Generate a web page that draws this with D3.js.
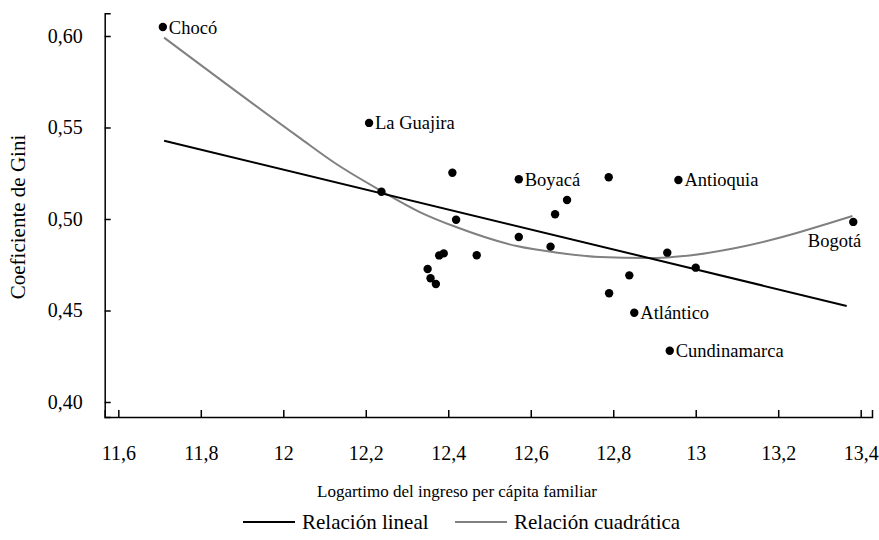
<!DOCTYPE html>
<html>
<head>
<meta charset="utf-8">
<script src="https://cdn.jsdelivr.net/npm/d3@7"></script>
<style>
  body { margin: 0; background: #fff; }
</style>
</head>
<body>
<svg width="879" height="540"></svg>
<script>
const svg = d3.select("svg");
const serif = "'Liberation Serif', 'Times New Roman', Times, serif";

// DATA
const regions = ["Chocó", "La Guajira", "", "", "", "Boyacá", "", "", "", "", "", "", "", "", "", "",
  "", "Antioquia", "Bogotá", "", "", "", "", "Atlántico", "Cundinamarca"];
const logIncome = [11.708, 12.208, 12.238, 12.410, 12.419, 12.571, 12.688, 12.659, 12.571, 12.648,
  12.469, 12.378, 12.389, 12.350, 12.357, 12.370, 12.789, 12.958, 13.382, 12.931, 13.000, 12.839,
  12.790, 12.851, 12.937];
const gini = [0.6049, 0.5525, 0.5149, 0.5253, 0.4996, 0.5217, 0.5104, 0.5026, 0.4902, 0.4849,
  0.4802, 0.4801, 0.4812, 0.4727, 0.4676, 0.4645, 0.5228, 0.5213, 0.4984, 0.4816, 0.4734, 0.4692,
  0.4594, 0.4488, 0.4280];

// fitted lines, points
const linearX = [11.711, 13.366];
const linearY = [0.5428, 0.4525];
const quadX = [11.711, 12.040, 12.125, 12.238, 12.331, 12.419, 12.566, 12.671, 12.768, 12.881, 12.985, 13.097, 13.380];
const quadY = [0.5991, 0.5443, 0.5306, 0.5153, 0.5038, 0.4956, 0.4852, 0.4814, 0.4792, 0.4787, 0.4801, 0.4842, 0.5016];

const xTicks = [11.6, 11.8, 12, 12.2, 12.4, 12.6, 12.8, 13, 13.2, 13.4];
const yTicks = [0.40, 0.45, 0.50, 0.55, 0.60];

const legendItems = [
  { name: "Relación lineal", color: "#000" },
  { name: "Relación cuadrática", color: "#808080" }
];

const points = logIncome.map((x, i) => ({ x: x, y: gini[i], name: regions[i] }));

// SCALES
const xScale = d3.scaleLinear().domain([11.567, 13.4274]).range([104.7, 872]);
const yScale = d3.scaleLinear().domain([0.3918, 0.6124]).range([417, 13.3]);

const loc = d3.formatLocale({ decimal: ",", thousands: ".", grouping: [3], currency: ["", ""] });
const fmtY = loc.format(".2f");
const fmtX = d => String(+d.toFixed(1)).replace(".", ",");

// AXES
const xAxis = d3.axisBottom(xScale)
  .tickValues(xTicks)
  .tickFormat(fmtX)
  .tickSizeInner(-7)
  .tickSizeOuter(-7)
  .tickPadding(29);

const yAxis = d3.axisLeft(yScale)
  .tickValues(yTicks)
  .tickFormat(fmtY)
  .tickSizeInner(-6)
  .tickSizeOuter(-6)
  .tickPadding(22);

const gx = svg.append("g").attr("transform", "translate(0,417)").call(xAxis);
const gy = svg.append("g").attr("transform", "translate(104.7,0)").call(yAxis);

[gx, gy].forEach(g => {
  g.attr("font-family", serif).attr("font-size", 20);
  g.selectAll("path, line").attr("stroke", "#000").attr("stroke-width", 1.5);
  g.selectAll("text").attr("font-family", serif).attr("font-size", 20).attr("fill", "#000");
});

// axis titles
svg.append("text")
  .attr("x", 457)
  .attr("y", 497)
  .attr("text-anchor", "middle")
  .attr("font-family", serif)
  .attr("font-size", 17)
  .text("Logartimo del ingreso per cápita familiar");

svg.append("text")
  .attr("transform", "translate(25,217) rotate(-90)")
  .attr("text-anchor", "middle")
  .attr("font-family", serif)
  .attr("font-size", 21)
  .text("Coeficiente de Gini");

// LINES
const line = d3.line().x(d => xScale(d[0])).y(d => yScale(d[1]));

svg.append("path")
  .datum(quadX.map((x, i) => [x, quadY[i]]))
  .attr("fill", "none")
  .attr("stroke", "#808080")
  .attr("stroke-width", 2)
  .attr("d", line.curve(d3.curveMonotoneX));

svg.append("path")
  .datum(linearX.map((x, i) => [x, linearY[i]]))
  .attr("fill", "none")
  .attr("stroke", "#000")
  .attr("stroke-width", 2)
  .attr("d", line.curve(d3.curveLinear));

// POINTS
svg.append("g")
  .selectAll("circle")
  .data(points)
  .join("circle")
  .attr("cx", d => xScale(d.x))
  .attr("cy", d => yScale(d.y))
  .attr("r", 4.2)
  .attr("fill", "#000");

// labels: right of the dot, Bogotá below-left
svg.append("g")
  .selectAll("text")
  .data(points.filter(d => d.name))
  .join("text")
  .attr("x", d => d.name === "Bogotá" ? xScale(d.x) + 8 : xScale(d.x) + 6)
  .attr("y", d => d.name === "Bogotá" ? yScale(d.y) + 19 : yScale(d.y))
  .attr("dy", "0.35em")
  .attr("text-anchor", d => d.name === "Bogotá" ? "end" : "start")
  .attr("font-family", serif)
  .attr("font-size", 18.5)
  .text(d => d.name);

// LEGEND
const lg = svg.append("g").attr("transform", "translate(243,522)");
const legendX = [0, 212];
const items = lg.selectAll("g").data(legendItems).join("g")
  .attr("transform", (d, i) => `translate(${legendX[i]},0)`);
items.append("line")
  .attr("x1", 0).attr("x2", 52)
  .attr("stroke", d => d.color)
  .attr("stroke-width", 2);
items.append("text")
  .attr("x", 59)
  .attr("dy", "0.35em")
  .attr("font-family", serif)
  .attr("font-size", 21)
  .text(d => d.name);
</script>
</body>
</html>
